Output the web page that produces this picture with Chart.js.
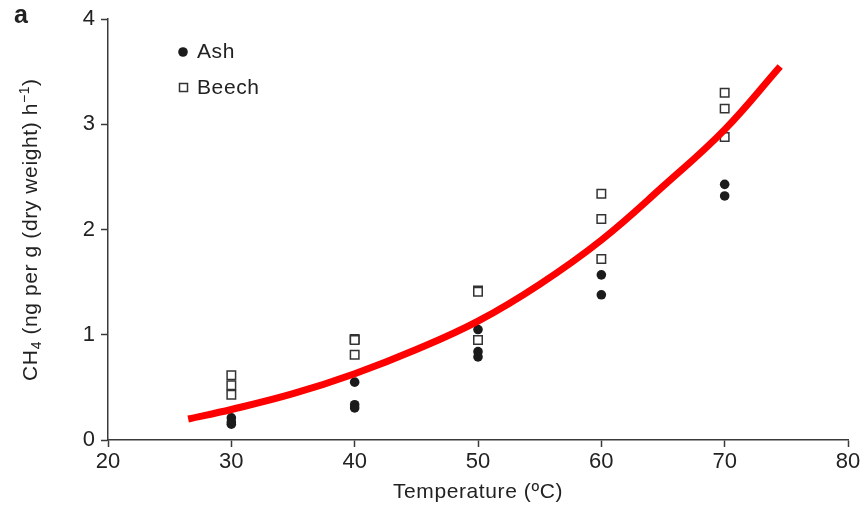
<!DOCTYPE html>
<html>
<head>
<meta charset="utf-8">
<script src="https://cdn.jsdelivr.net/npm/chart.js@4.4.0/dist/chart.umd.min.js"></script>
<style>
  html, body { margin: 0; padding: 0; background: #fff; }
  #container { width: 866px; height: 507px; }
</style>
</head>
<body>
<div id="container"><canvas id="myChart" width="866" height="507"></canvas></div>
<script>
// values
const ashTemp   = [30, 30, 30, 40, 40, 40, 50, 50, 50, 60, 60, 70, 70];
const ashCH4    = [0.21, 0.17, 0.15, 0.55, 0.335, 0.305, 1.05, 0.84, 0.79, 1.57, 1.38, 2.43, 2.32];
const beechTemp = [30, 30, 30, 40, 40, 40, 50, 50, 50, 60, 60, 60, 70, 70, 70];
const beechCH4  = [0.615, 0.52, 0.43, 0.96, 0.95, 0.81, 1.42, 1.41, 0.95, 2.34, 2.10, 1.72, 3.30, 3.15, 2.88];
// red fitted curve, sampled by eye
const fitTemp = [26.5, 30, 35, 40, 45, 50, 55, 60, 65, 70, 74.5];
const fitCH4  = [0.20, 0.29, 0.44, 0.63, 0.86, 1.13, 1.48, 1.90, 2.41, 2.95, 3.55];
const xTicks = [20, 30, 40, 50, 60, 70, 80];
const yTicks = [0, 1, 2, 3, 4];

const FONT = "'Liberation Sans', Arial, Helvetica, sans-serif";
const INK = '#222';
const AXIS = '#3a3a3a';

function pts(xs, ys) {
  return xs.map((x, i) => ({ x: x, y: ys[i] }));
}

// titles, legend and panel letter
const extras = {
  id: 'extras',
  afterDraw(chart) {
    const ctx = chart.ctx;
    const area = chart.chartArea;
    ctx.save();
    ctx.fillStyle = INK;

    // panel letter
    ctx.font = 'bold 25px ' + FONT;
    ctx.textAlign = 'left';
    ctx.textBaseline = 'alphabetic';
    ctx.fillText('a', 14, 23);

    ctx.letterSpacing = '0.6px';

    // x title
    ctx.font = '21px ' + FONT;
    ctx.textAlign = 'center';
    ctx.textBaseline = 'middle';
    ctx.fillText('Temperature (ºC)', (area.left + area.right) / 2, 492);

    // y title with sub/superscript
    const segs = [
      ['CH', 0, 21],
      ['4', 4, 14],
      [' (ng per g (dry weight) h', 0, 21],
      ['\u22121', -8, 14],
      [')', 0, 21]
    ];
    let total = 0;
    segs.forEach(s => { ctx.font = s[2] + 'px ' + FONT; total += ctx.measureText(s[0]).width; });
    ctx.translate(29, (area.top + area.bottom) / 2);
    ctx.rotate(-Math.PI / 2);
    ctx.textAlign = 'left';
    ctx.textBaseline = 'alphabetic';
    let cx = -total / 2;
    segs.forEach(s => {
      ctx.font = s[2] + 'px ' + FONT;
      ctx.fillText(s[0], cx, 7.5 + s[1]);
      cx += ctx.measureText(s[0]).width;
    });
    ctx.setTransform(1, 0, 0, 1, 0, 0);

    // legend
    const ash = chart.data.datasets[1];
    const beech = chart.data.datasets[2];
    ctx.font = '21px ' + FONT;
    ctx.textAlign = 'left';
    ctx.textBaseline = 'middle';
    ctx.beginPath();
    ctx.arc(183, 52, 4.8, 0, Math.PI * 2);
    ctx.fillStyle = ash.backgroundColor;
    ctx.fill();
    ctx.fillStyle = INK;
    ctx.fillText(ash.label, 197, 52);

    ctx.lineWidth = beech.borderWidth;
    ctx.strokeStyle = beech.borderColor;
    ctx.fillStyle = beech.backgroundColor;
    ctx.fillRect(179.5, 83.5, 8, 8);
    ctx.strokeRect(179.5, 83.5, 8, 8);
    ctx.fillStyle = INK;
    ctx.fillText(beech.label, 197, 88);

    ctx.restore();
  }
};

new Chart('myChart', {
  type: 'scatter',
  data: {
    datasets: [
      {
        label: 'Fit',
        type: 'line',
        data: pts(fitTemp, fitCH4),
        borderColor: '#f00',
        borderWidth: 7,
        pointRadius: 0,
        tension: 0.4,
        fill: false,
        order: 0
      },
      {
        label: 'Ash',
        data: pts(ashTemp, ashCH4),
        pointStyle: 'circle',
        pointRadius: 4.8,
        backgroundColor: '#1b1b1b',
        borderColor: '#1b1b1b',
        borderWidth: 0,
        order: 1
      },
      {
        label: 'Beech',
        data: pts(beechTemp, beechCH4),
        pointStyle: 'rect',
        pointRadius: 6,
        backgroundColor: '#fff',
        borderColor: '#333',
        borderWidth: 1.5,
        order: 2
      }
    ]
  },
  options: {
    responsive: false,
    animation: false,
    layout: { padding: { left: 0, right: 18, top: 17, bottom: 0 } },
    plugins: {
      legend: { display: false },
      tooltip: { enabled: false }
    },
    scales: {
      x: {
        type: 'linear',
        min: 20,
        max: 80,
        afterBuildTicks: s => { s.ticks = xTicks.map(v => ({ value: v })); },
        afterFit: s => { s.height = 67; },
        grid: { drawOnChartArea: false, drawTicks: true, tickLength: 7, tickWidth: 1.5, tickColor: AXIS },
        border: { display: true, color: AXIS, width: 1.5 },
        ticks: { font: { family: FONT, size: 22 }, color: INK, padding: 2, maxRotation: 0 }
      },
      y: {
        type: 'linear',
        min: 0,
        max: 4,
        afterBuildTicks: s => { s.ticks = yTicks.map(v => ({ value: v })); },
        afterFit: s => { s.width = 108; },
        grid: { drawOnChartArea: false, drawTicks: true, tickLength: 7, tickWidth: 1.5, tickColor: AXIS },
        border: { display: true, color: AXIS, width: 1.5 },
        ticks: { font: { family: FONT, size: 22 }, color: INK, padding: 6 }
      }
    }
  },
  plugins: [extras]
});
</script>
</body>
</html>
